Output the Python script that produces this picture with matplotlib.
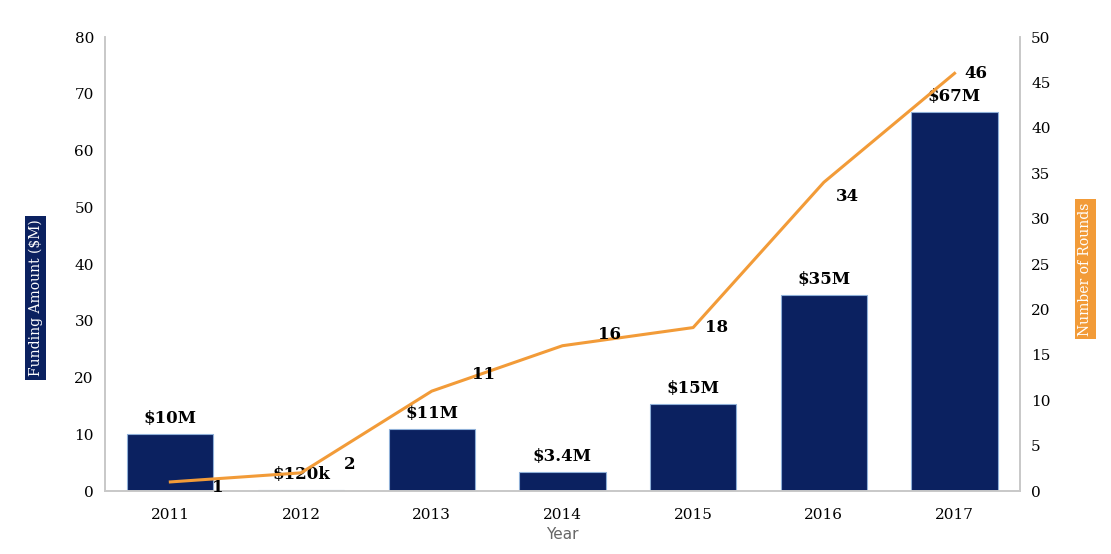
import matplotlib.pyplot as plt
import numpy as np

# Funding per year (bars, $M) and number of rounds (line)
years = ['2011', '2012', '2013', '2014', '2015', '2016', '2017']
funding = [10, 0.12, 11, 3.4, 15.3, 34.6, 66.8]
funding_labels = ['$10M', '$120k', '$11M', '$3.4M', '$15M', '$35M', '$67M']
rounds = [1, 2, 11, 16, 18, 34, 46]

navy = '#0B2160'
orange = '#F29B38'
serif = 'DejaVu Serif'

# label offsets for the rounds labels (points)
round_offsets = [(34, -4), (35, 6), (37, 12), (34, 8), (17, 0), (17, -10), (15, 0)]

fig = plt.figure(figsize=(11.11, 5.54), dpi=100)
ax = fig.add_axes([0.0945, 0.1137, 0.8235, 0.8195])
ax2 = ax.twinx()

x = np.arange(len(years))
bars = ax.bar(x, funding, width=0.66, color=navy, edgecolor='#8FB0D8', linewidth=0.8, zorder=2)
for xi, v, lab in zip(x, funding, funding_labels):
    ax.annotate(lab, (xi, v), xytext=(0, 5), textcoords='offset points',
                ha='center', va='bottom', fontsize=12, fontweight='bold', family=serif)

ax2.plot(x, rounds, color=orange, linewidth=2.2, zorder=3)
for xi, v, (dx, dy) in zip(x, rounds, round_offsets):
    ax2.annotate(str(v), (xi, v), xytext=(dx, dy), textcoords='offset points',
                 ha='center', va='center', fontsize=12, fontweight='bold', family=serif)

ax.set_xlim(-0.5, 6.5)
ax.set_ylim(0, 80)
ax2.set_ylim(0, 50)
ax.set_yticks(range(0, 81, 10))
ax2.set_yticks(range(0, 51, 5))
ax.set_xticks(x)
ax.set_xticklabels(years)

for a in (ax, ax2):
    a.tick_params(length=0, labelsize=11, pad=8)
    for lbl in a.get_xticklabels() + a.get_yticklabels():
        lbl.set_family(serif)
    a.spines['top'].set_visible(False)
    for s in ('left', 'right', 'bottom'):
        a.spines[s].set_color('#C8C8C8')
        a.spines[s].set_linewidth(1.2)
ax.tick_params(axis='x', pad=12)
ax.set_zorder(ax2.get_zorder() - 1)
ax2.patch.set_visible(False)

ax.set_xlabel('Year', color='#666666', fontsize=11, labelpad=4)

fig.text(0.032, 0.462, 'Funding Amount ($M)', rotation=90, ha='center', va='center',
         family=serif, fontsize=10, color='white',
         bbox=dict(boxstyle='square,pad=0.25', fc=navy, ec='none'))
fig.text(0.977, 0.514, 'Number of Rounds', rotation=90, ha='center', va='center',
         family=serif, fontsize=10, color='white',
         bbox=dict(boxstyle='square,pad=0.25', fc=orange, ec='none'))

fig.savefig('out.png', dpi=100)
